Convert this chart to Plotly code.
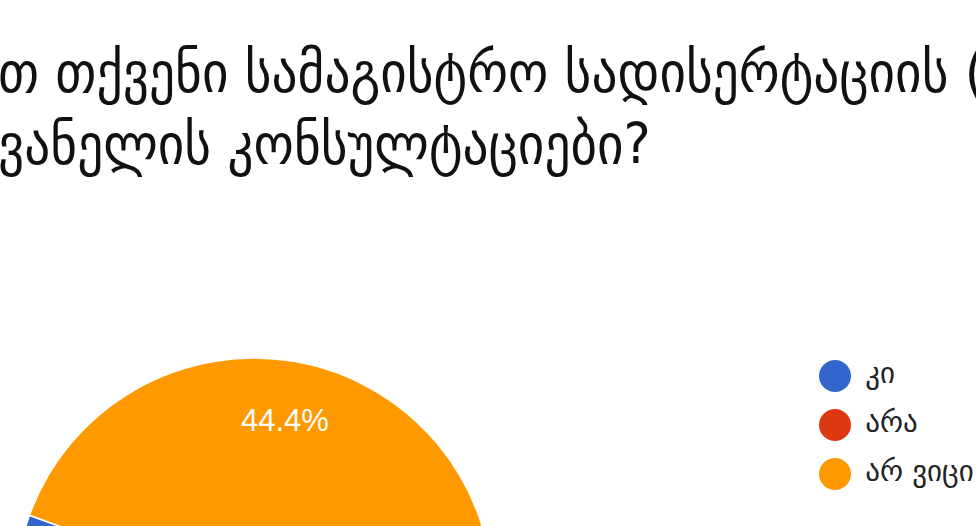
import math
import plotly.graph_objects as go

# ---- data ----
labels = ["კი", "არა", "არ ვიცი"]
values = [4, 1, 4]
colors = ["#3366CC", "#DC3912", "#FF9900"]
title_lines = ["თ თქვენი სამაგისტრო სადისერტაციის (", "ვანელის კონსულტაციები?"]

# ---- layout geometry (pixels) ----
W, H = 976, 900
cx, cy, r = 254, 597, 239
rotation = 130


def yp(y_px):
    return 1 - y_px / H


fig = go.Figure()
fig.add_trace(go.Pie(
    labels=labels, values=values, sort=False,
    direction="counterclockwise", rotation=rotation,
    marker=dict(colors=colors, line=dict(color="white", width=1.5)),
    textinfo="none",
    domain=dict(x=[(cx - r) / W, (cx + r) / W], y=[yp(cy + r), yp(cy - r)]),
    showlegend=False, hoverinfo="label+percent",
))

# slice percentage labels (Google-charts style, at 3/4 of the radius)
total = sum(values)
ang = rotation
for i, v in enumerate(values):
    span = 360 * v / total
    if i == 0:
        mid = rotation + span / 2
    else:
        mid = ang - span / 2
        ang -= span
    a = math.radians(mid)
    fig.add_annotation(
        x=cx + 0.75 * r * math.sin(a), y=cy - 0.75 * r * math.cos(a),
        xref="x", yref="y", text=f"{100 * v / total:.1f}%", showarrow=False,
        font=dict(family="Liberation Sans, Arial", size=31, color="white"),
    )

# custom legend with large round markers
leg_x = 835
leg_y = [376 + 49 * i for i in range(len(labels))]
fig.add_trace(go.Scatter(
    x=[leg_x] * len(labels), y=leg_y, mode="markers+text",
    marker=dict(size=32, color=colors),
    text=[" " + l for l in labels], textposition="middle right",
    textfont=dict(family="DejaVu Sans", size=29, color="#222222"),
    showlegend=False, hoverinfo="skip", cliponaxis=False,
))

for i, line in enumerate(title_lines):
    fig.add_annotation(
        text=line, xref="paper", yref="paper", x=-4 / W, y=yp([107, 179][i]),
        xanchor="left", yanchor="bottom", showarrow=False,
        font=dict(family="DejaVu Sans Condensed, DejaVu Sans", size=57, color="#111111"),
    )

fig.update_layout(
    width=W, height=H, margin=dict(l=0, r=0, t=0, b=0),
    paper_bgcolor="white", plot_bgcolor="white",
    xaxis=dict(range=[0, W], visible=False, fixedrange=True),
    yaxis=dict(range=[H, 0], visible=False, fixedrange=True),
)

fig.write_html(
    "out.html",
    config={"displayModeBar": False},
    post_script="document.body.style.margin='0';document.body.style.overflow='hidden';"
                "document.documentElement.style.overflow='hidden';",
)
